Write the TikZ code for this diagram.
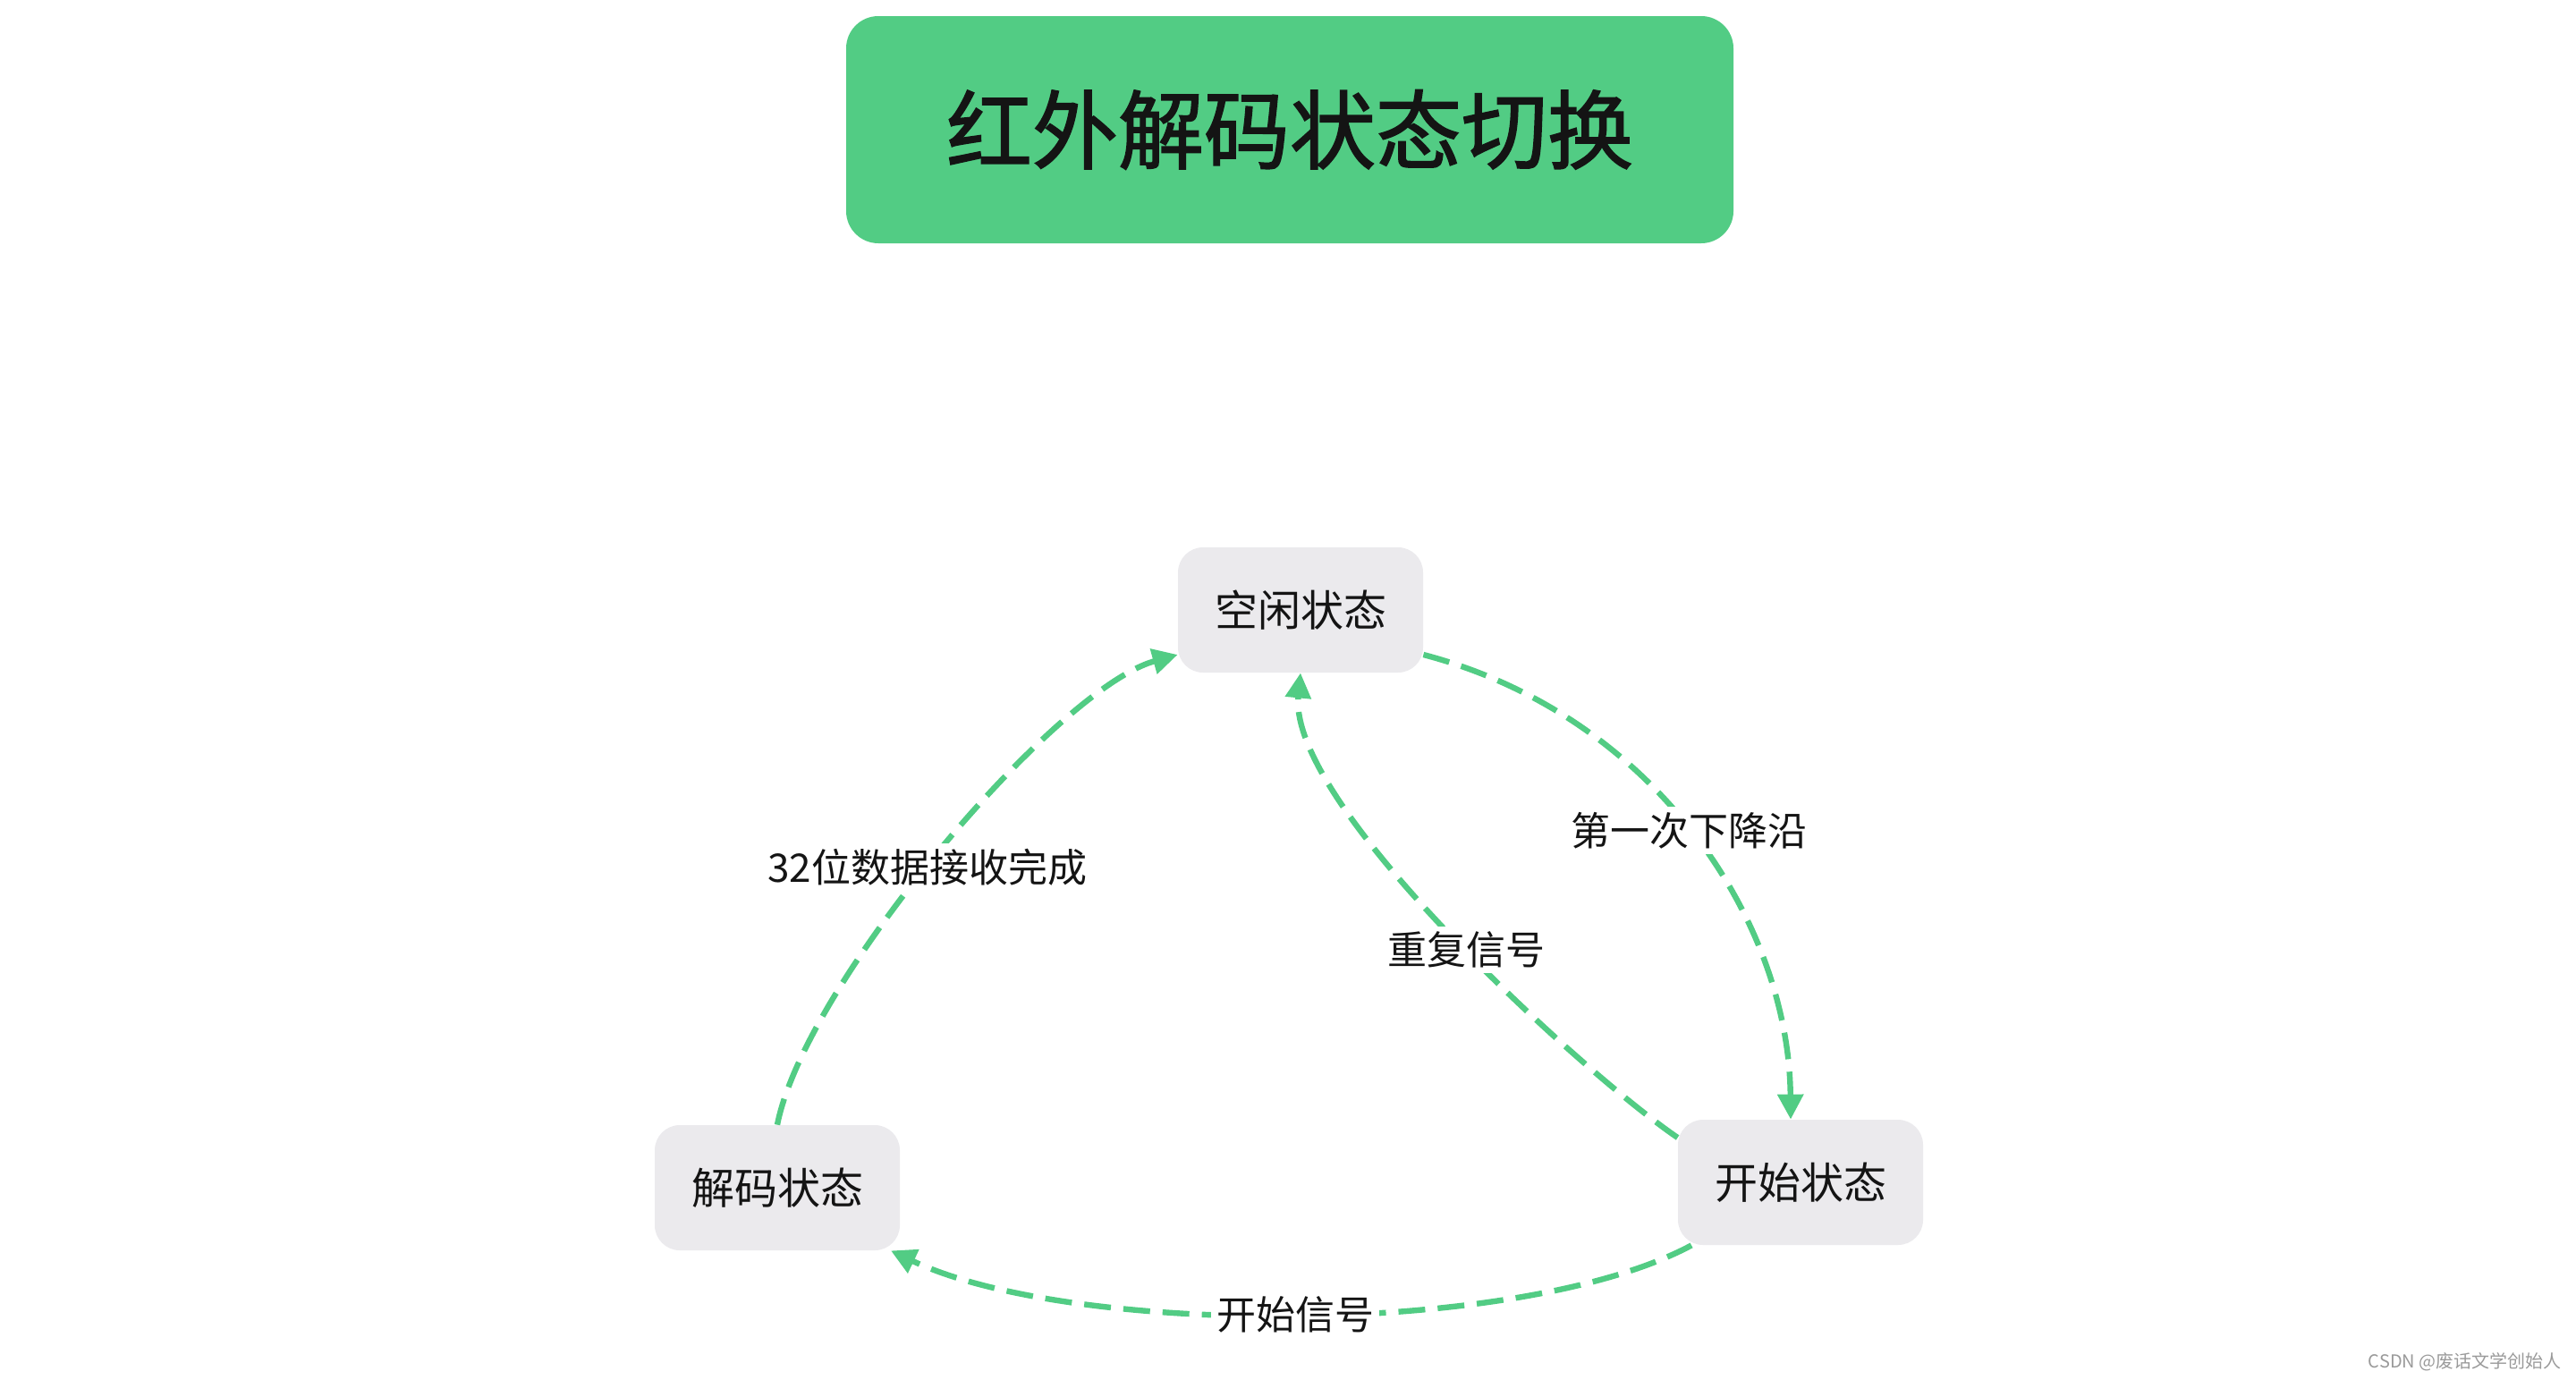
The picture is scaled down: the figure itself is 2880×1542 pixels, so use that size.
\documentclass[tikz,border=0pt]{standalone}
\usepackage{fontspec}
\setmainfont{Noto Sans CJK SC}
\newfontfamily\titlefont[FakeBold=1.6]{Noto Sans CJK SC}
\usetikzlibrary{arrows.meta,calc}
\definecolor{tgreen}{HTML}{52CC84}
\definecolor{nodegray}{HTML}{EBEAED}
\definecolor{wmgray}{HTML}{9A9A9A}
\definecolor{ink}{HTML}{141414}
\tikzset{
 statebox/.style={fill=nodegray, rounded corners=14pt, minimum width=137pt, minimum height=70pt, inner sep=0pt, font=\fontsize{24}{28}\selectfont, text=ink},
 flow/.style={draw=tgreen, line width=3.2pt, dash pattern=on 15pt off 7pt, -{Triangle[length=14pt,width=14pt]}},
 elabel/.style={fill=white, inner sep=3pt, font=\fontsize{22}{26}\selectfont, text=ink}
}
\begin{document}
\begin{tikzpicture}[x=0.5pt,y=-0.5pt]
\useasboundingbox (0,0) rectangle (2880,1542);
\node[fill=tgreen, rounded corners=18pt, minimum width=496pt, minimum height=127pt, text=ink, font=\titlefont\fontsize{48}{56}\selectfont] (title) at (1442,145) {红外解码状态切换};
\node[statebox] (idle) at (1454,682) {空闲状态};
\node[statebox] (dec) at (869,1328) {解码状态};
\node[statebox] (start) at (2013,1322) {开始状态};
\draw[flow] (idle.-20) .. controls (1850,800) and (2000,1030) .. ($(start.north)+(-11,0)$) node[elabel,pos=0.49]{第一次下降沿};
\draw[flow] (start.160) .. controls (1770,1200) and (1440,900) .. (idle.south) node[elabel,pos=0.465]{重复信号};
\draw[flow] (start.210) .. controls (1700,1495) and (1200,1495) .. (dec.-29) node[elabel,pos=0.5]{开始信号};
\draw[flow] (dec.north) .. controls (900,1100) and (1180,770) .. (idle.200) node[elabel,pos=0.47]{32位数据接收完成};
\node[anchor=east, text=wmgray, font=\fontsize{10}{12}\selectfont, inner sep=0pt] (wm) at (2864,1523) {CSDN @废话文学创始人};
\end{tikzpicture}
\end{document}
